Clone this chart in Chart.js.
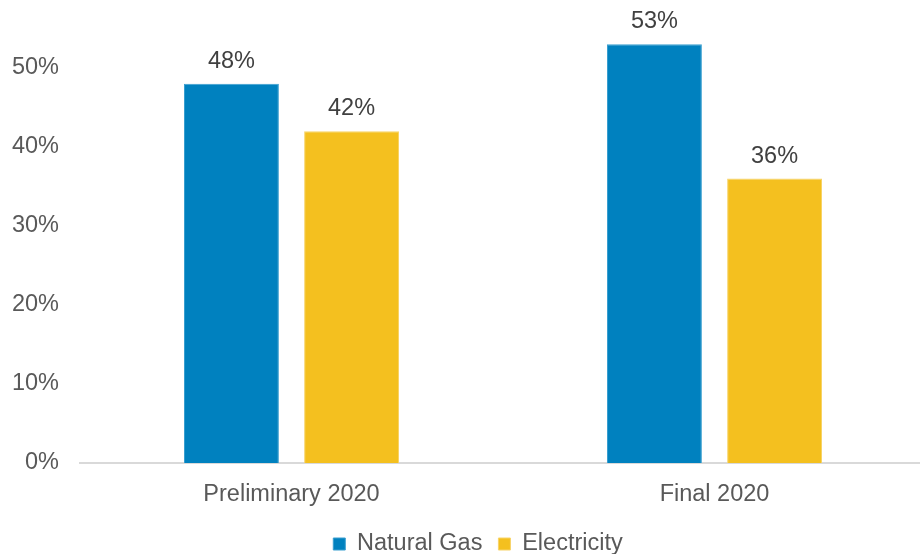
<!DOCTYPE html>
<html>
<head>
<meta charset="utf-8">
<script src="https://cdn.jsdelivr.net/npm/chart.js@4"></script>
<style>
  html, body { margin: 0; padding: 0; background: #fff; overflow: hidden; }
  canvas { display: block; }
</style>
</head>
<body>
<canvas id="my-chart" width="926" height="554"></canvas>
<script>
const categories = ['Preliminary 2020', 'Final 2020'];
const naturalGas = [48, 53];
const electricity = [42, 36];
const yTicks = [0, 10, 20, 30, 40, 50];

const FONT = "'Liberation Sans', Arial, sans-serif";

// value labels above each bar
const barLabels = {
    id: 'barLabels',
    afterDatasetsDraw(chart) {
        const ctx = chart.ctx;
        ctx.save();
        ctx.font = '23.5px ' + FONT;
        ctx.fillStyle = '#404040';
        ctx.textAlign = 'center';
        ctx.textBaseline = 'alphabetic';
        chart.data.datasets.forEach((ds, i) => {
            chart.getDatasetMeta(i).data.forEach((bar, j) => {
                ctx.fillText(ds.data[j] + '%', bar.x, bar.y - 16);
            });
        });
        ctx.restore();
    }
};

// nudge the legend a little to the right of the canvas centre
const legendShift = {
    id: 'legendShift',
    afterLayout(chart) {
        chart.legend.left += 15;
        chart.legend.right += 15;
    }
};

document.addEventListener('DOMContentLoaded', () => {
    const ctx = document.getElementById('my-chart').getContext('2d');
    new Chart(ctx, {
        type: 'bar',
        data: {
            labels: categories,
            datasets: [
                {
                    label: 'Natural Gas',
                    data: naturalGas,
                    backgroundColor: '#0081BF',
                    borderColor: '#3a9fd0',
                    borderWidth: 1,
                    borderSkipped: 'bottom'
                },
                {
                    label: 'Electricity',
                    data: electricity,
                    backgroundColor: '#F4C01F',
                    borderColor: '#f8d468',
                    borderWidth: 1,
                    borderSkipped: 'bottom'
                }
            ]
        },
        options: {
            responsive: false,
            animation: false,
            layout: { padding: { top: 0, left: 0, right: 0, bottom: -11.75 } },
            datasets: {
                bar: { categoryPercentage: 0.568, barPercentage: 0.79 }
            },
            scales: {
                x: {
                    grid: { display: false },
                    border: { display: true, color: '#d9d9d9', width: 2 },
                    ticks: { color: '#595959', font: { family: FONT, size: 23.5 }, padding: 9 },
                    afterFit: (s) => { s.height = 53.25; }
                },
                y: {
                    min: 0,
                    max: 58.6,
                    grid: { display: false },
                    border: { display: false },
                    afterBuildTicks: (s) => { s.ticks = yTicks.map(v => ({ value: v })); },
                    ticks: {
                        color: '#595959',
                        font: { family: FONT, size: 23.5 },
                        padding: 13,
                        callback: (v) => v + '%'
                    },
                    afterFit: (s) => {
                        s.width = 80;
                        s.paddingTop = 0;
                        s.paddingBottom = 0;
                    }
                }
            },
            plugins: {
                legend: {
                    display: true,
                    position: 'bottom',
                    labels: {
                        color: '#595959',
                        font: { family: FONT, size: 23.5 },
                        boxWidth: 12,
                        boxHeight: 12,
                        padding: 16,
                        useBorderRadius: false
                    }
                },
                tooltip: { enabled: false }
            }
        },
        plugins: [barLabels, legendShift]
    });
});
</script>
</body>
</html>
